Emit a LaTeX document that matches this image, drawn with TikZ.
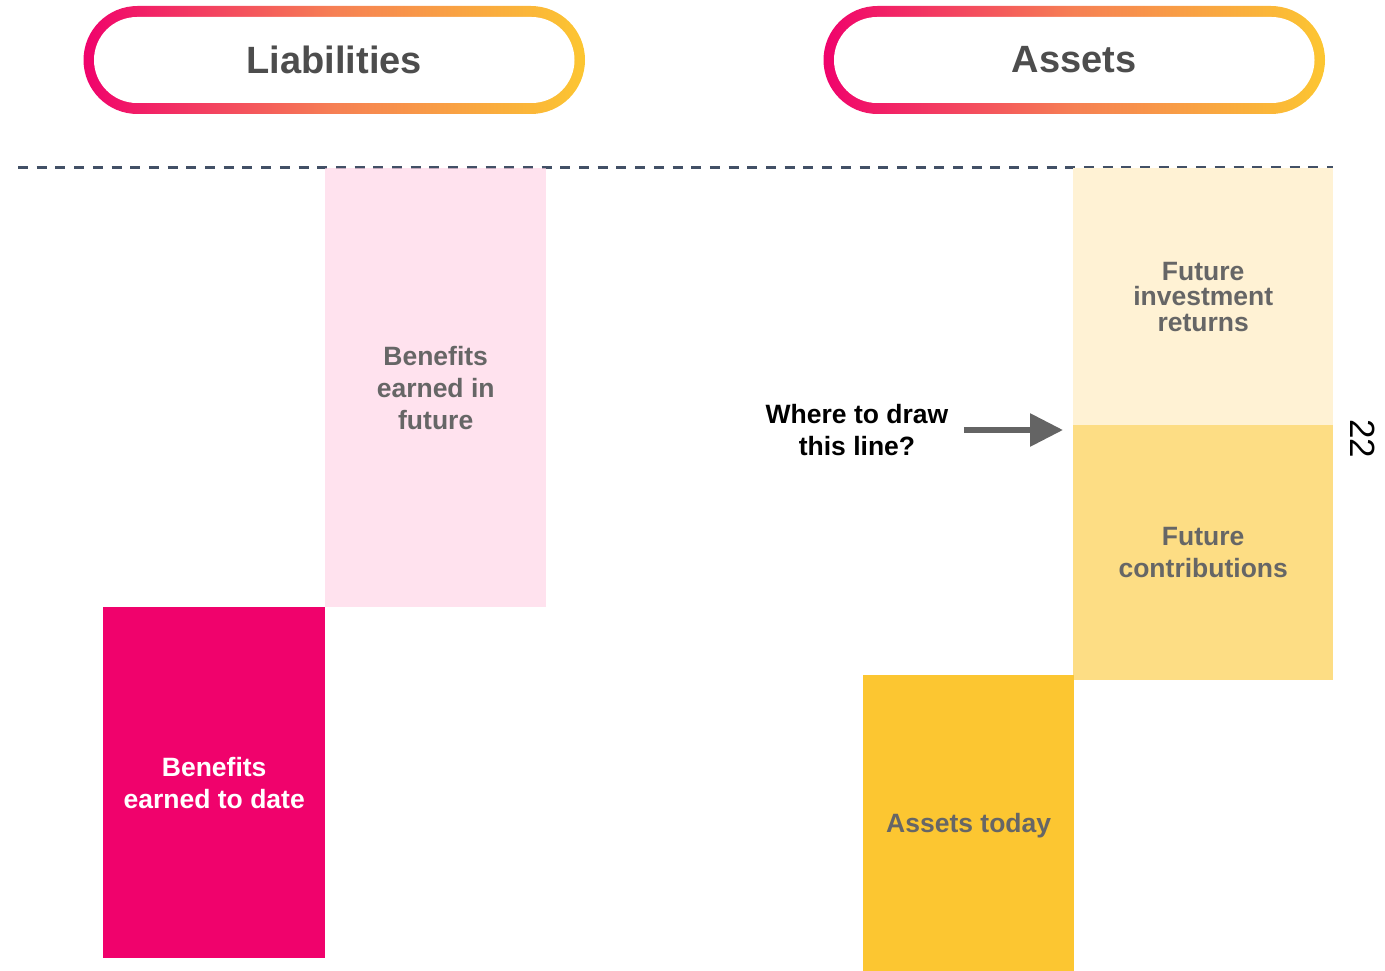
\documentclass[tikz,border=0pt]{standalone}
\usepackage{fontspec}
\setmainfont{Liberation Sans}
\usetikzlibrary{shapes.misc,arrows.meta}

\definecolor{pinkc}{RGB}{240,2,108}
\definecolor{orangec}{RGB}{246,128,84}
\definecolor{yellowc}{RGB}{252,198,49}
\definecolor{titlegray}{RGB}{77,77,77}
\definecolor{boxgray}{RGB}{102,102,102}
\definecolor{dashc}{RGB}{66,80,102}
\definecolor{futpink}{RGB}{255,212,230}
\definecolor{returnsc}{RGB}{255,242,212}
\definecolor{contribc}{RGB}{253,221,132}
\definecolor{todayc}{RGB}{252,198,49}
\definecolor{todatec}{RGB}{240,2,108}
\definecolor{arrowc}{RGB}{100,100,100}

\begin{document}
\begin{tikzpicture}[x=1pt,y=-1pt,
  pillouter/.style={rounded rectangle, inner sep=0pt,
    minimum width=501.5pt, minimum height=108pt,
    left color=pinkc, right color=yellowc, middle color=orangec},
  pillinner/.style={rounded rectangle, inner sep=0pt, fill=white,
    minimum width=480.5pt, minimum height=86pt,
    text=titlegray, font=\fontsize{38}{44}\selectfont\bfseries},
  blockbox/.style={rectangle, inner sep=0pt, anchor=north west, align=center,
    text=boxgray, font=\fontsize{26.5}{32}\selectfont\bfseries},
  pointer/.style={arrowc, line width=6pt,
    -{Triangle[length=33pt, width=32pt]}}
]
\useasboundingbox (0,0) rectangle (1385,971);

% column headers
\node[pillouter] (liabpill) at (334.25,60) {};
\node[pillinner] (liab) at (liabpill.center) {Liabilities};
\node[pillouter] (assetpill) at (1074.25,60) {};
\node[pillinner] (assets) at (assetpill.center) {Assets};

% dashed reference line
\coordinate (dl) at (18,168);
\coordinate (dr) at (1333,168);
\draw[dashc, line width=3pt, dash pattern=on 10pt off 8.7pt] (dl) -- (dr);

% liabilities blocks
\node[blockbox, fill=futpink, fill opacity=0.68, text opacity=1,
  minimum width=221pt, minimum height=439pt] (future) at (325,168)
  {Benefits\\earned in\\future};
\node[blockbox, fill=todatec, text=white,
  minimum width=222pt, minimum height=351pt] (todate) at (103,607)
  {Benefits\\earned to date};

% assets blocks
\node[blockbox, fill=returnsc, font=\fontsize{26.5}{25.5}\selectfont\bfseries,
  minimum width=260pt, minimum height=257pt] (returns) at (1073,168)
  {Future\\investment\\returns};
\node[blockbox, fill=contribc,
  minimum width=260pt, minimum height=255pt] (contrib) at (1073,425)
  {Future\\contributions};
\node[blockbox, fill=todayc, text depth=0pt,
  minimum width=211pt, minimum height=296pt] (today) at (863,675)
  {Assets today};

% question and pointer
\node[align=center, font=\fontsize{26.5}{32}\selectfont\bfseries] (question)
  at (857,430) {Where to draw\\this line?};
\coordinate (tip) at (1063,430);
\draw[pointer, shorten <=12pt] (question.east) -- (tip);

% page number
\node[rotate=-90, font=\fontsize{35}{40}\selectfont] (pageno) at (1363,439) {22};
\end{tikzpicture}
\end{document}
